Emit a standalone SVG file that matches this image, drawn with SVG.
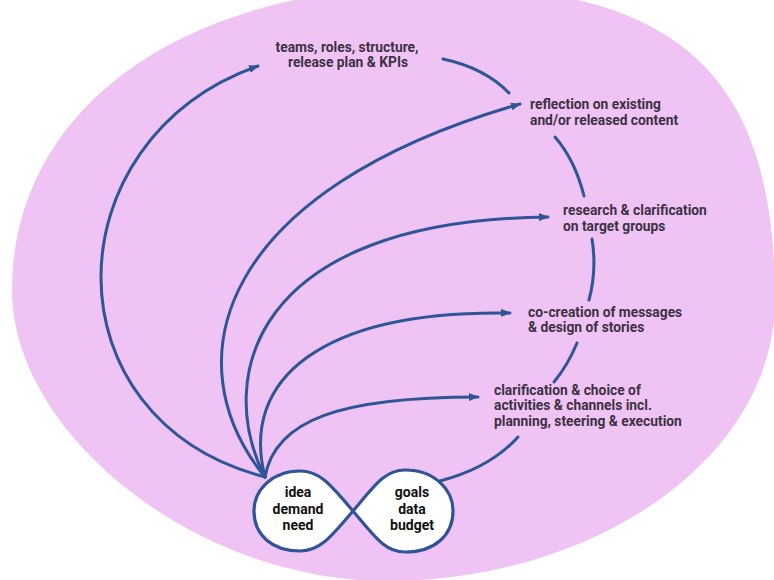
<svg xmlns="http://www.w3.org/2000/svg" width="774" height="580" viewBox="0 0 774 580">
<defs>
<style>
.lbl{font-family:Roboto,"Liberation Sans",sans-serif;font-weight:700;font-size:13.8px;fill:#3d3242}
.nd{font-family:Roboto,"Liberation Sans",sans-serif;font-weight:700;font-size:14px;fill:#111;text-anchor:middle}
.c{fill:none;stroke:#2f5597;stroke-width:3;stroke-linecap:round}
</style>
<marker id="ah" viewBox="0 0 10 8" refX="9" refY="4" markerWidth="10" markerHeight="8" markerUnits="userSpaceOnUse" orient="auto">
<path d="M0,0 L10,4 L0,8 z" fill="#2f5597"/>
</marker>
</defs>
<rect width="774" height="580" fill="#fff"/>
<path id="bg" d="M12,290 C12,110 180,-14 435,-14 C678,-14 775,74 775,300 C775,455 600,581 385,581 C198,581 12,435 12,290 Z" fill="#f0c3f5"/>
<g id="connectors">
<path class="c" marker-end="url(#ah)" d="M265,477 C45,420 50,140 258,66"/>
<path class="c" marker-end="url(#ah)" d="M265,477 C170,360 220,190 520,104"/>
<path class="c" marker-end="url(#ah)" d="M265,477 C215,380 250,220 548,217"/>
<path class="c" marker-end="url(#ah)" d="M265,477 C240,380 320,310 510,313"/>
<path class="c" marker-end="url(#ah)" d="M265,477 C275,420 340,397 478,397"/>
<path class="c" d="M443,59 Q485,68 509,93"/>
<path class="c" d="M555,137 Q575,160 584,196"/>
<path class="c" d="M592,239 Q597,270 589,300"/>
<path class="c" d="M577,343 Q568,365 554,382"/>
<path class="c" d="M518,437 Q490,468 440,481"/>
</g>
<g id="node-loop">
<path d="M353,511 C375,485 385,470 405,470 C435,470 453,490 453,511 C453,535 435,552 405,552 C385,552 375,537 353,511 C331,485 320,471 300,471 C272,471 254,490 254,511 C254,535 272,551 300,551 C320,551 331,537 353,511 Z" fill="#fff" stroke="#2f5597" stroke-width="3.2"/>
<text class="nd" x="298" y="497">idea</text>
<text class="nd" x="298" y="514">demand</text>
<text class="nd" x="298" y="530">need</text>
<text class="nd" x="412" y="497">goals</text>
<text class="nd" x="412" y="514">data</text>
<text class="nd" x="412" y="530">budget</text>
</g>
<g id="node-teams">
<text class="lbl" text-anchor="middle" x="347" y="52">teams, roles, structure,</text>
<text class="lbl" text-anchor="middle" x="348" y="67">release plan &amp; KPIs</text>
</g>
<g id="node-reflection">
<text class="lbl" x="530" y="109">reflection on existing</text>
<text class="lbl" x="530" y="125">and/or released content</text>
</g>
<g id="node-research">
<text class="lbl" x="563" y="215">research &amp; clarification</text>
<text class="lbl" x="563" y="231">on target groups</text>
</g>
<g id="node-cocreation">
<text class="lbl" x="528" y="317">co-creation of messages</text>
<text class="lbl" x="528" y="332">&amp; design of stories</text>
</g>
<g id="node-clarification">
<text class="lbl" x="494" y="395">clarification &amp; choice of</text>
<text class="lbl" x="494" y="410">activities &amp; channels incl.</text>
<text class="lbl" x="494" y="426">planning, steering &amp; execution</text>
</g>
</svg>
